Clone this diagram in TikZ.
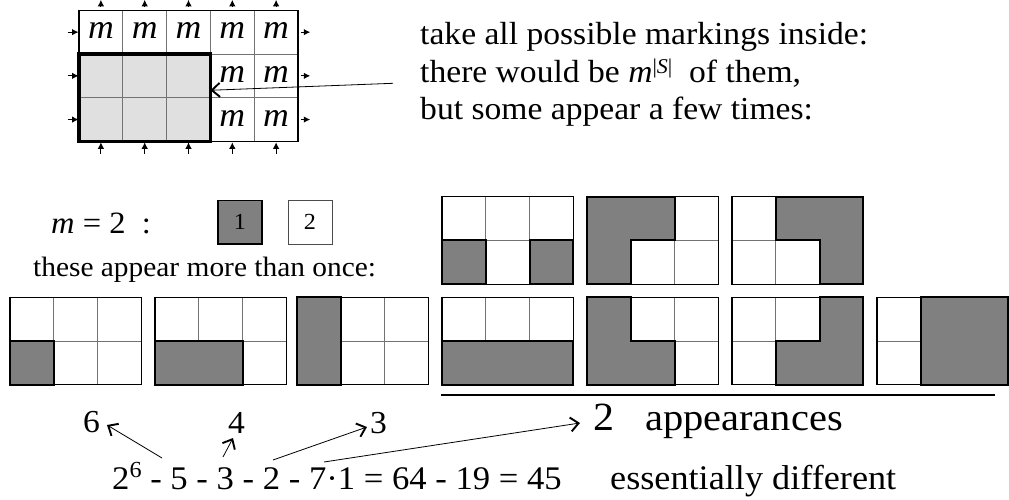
\documentclass[tikz,border=0pt]{standalone}
\usepackage{fontspec}
\setmainfont{Liberation Serif}[FakeStretch=1.05]
\usetikzlibrary{arrows.meta}
\newcommand\fsz[1]{\fontsize{#1}{#1}\selectfont}
\tikzset{
  cellline/.style={draw=black!55, line width=0.9pt},
  outerbox/.style={draw=black, line width=1.1pt},
  shaded/.style={fill=black!50, draw=black, line width=2pt, line join=miter},
  barb/.style={-{Straight Barb[length=8pt,width=14pt,line width=1.9pt]}, line width=0.8pt},
  tick/.style={-{Latex[length=6.5pt,width=6.5pt]}, line width=1.1pt},
  txt/.style={inner sep=0pt, anchor=base west},
}
\newcommand\mgrid[3]{%
  \begin{scope}[shift={(#1,#2)}, x=43.8pt, y=-43.7pt]
    \fill[white] (0,0) rectangle (3,2);
    \draw[cellline] (1,0)--(1,2) (2,0)--(2,2) (0,1)--(3,1);
    \filldraw[shaded] #3;
    \draw[outerbox] (0,0) rectangle (3,2);
    \filldraw[shaded] #3;
  \end{scope}}
\begin{document}
\begin{tikzpicture}[x=1pt, y=-1pt]
\useasboundingbox (0,0) rectangle (1009,500);
% ---------- top-left grid ----------
\begin{scope}[shift={(79,10.3)}, x=43.8pt, y=-43.7pt]
  \fill[black!12] (0,1) rectangle (3,3);
  \draw[cellline] (1,0)--(1,3) (2,0)--(2,3) (3,0)--(3,3) (4,0)--(4,3)
                  (0,1)--(5,1) (0,2)--(5,2);
  \draw[outerbox] (0,0) rectangle (5,3);
  \draw[line width=3.5pt] (0,1) rectangle (3,3);
  \foreach \c in {0,...,4} {
    \node[font=\fsz{34}\itshape] (mt\c) at (\c+0.5,0.47) {m};
    \draw[tick] (\c+0.5,3.28) -- (\c+0.5,3.02);
    \draw[tick] (\c+0.5,-0.1) -- (\c+0.5,-0.24);
  }
  \foreach \c in {3,4} \foreach \r in {1,2}
    \node[font=\fsz{34}\itshape] (m\c\r) at (\c+0.5,\r+0.47) {m};
  \foreach \r in {0,1,2} {
    \draw[tick] (-0.26,\r+0.5) -- (-0.01,\r+0.5);
    \draw[tick] (5.06,\r+0.5) -- (5.28,\r+0.5);
  }
  \coordinate (inner) at (3,1.83);
\end{scope}
% ---------- top text ----------
\node[txt, font=\fsz{32}] (t1) at (420,45) {take all possible markings inside:};
\node[txt, font=\fsz{32}] (t2) at (420,83) {there would be \textit{m}\raisebox{9pt}{\fsz{21}|\textit{S}|}\ \ of them,};
\node[txt, font=\fsz{32}] (t3) at (420,120) {but some appear a few times:};
\coordinate (lstart) at (393,83.3);
\draw[barb] (lstart) -- (inner);
% ---------- m = 2 ----------
\node[txt, font=\fsz{31}] (meq) at (51,233) {\textit{m} = 2\ \ :};
\node[draw=black, line width=1.3pt, fill=black!50, minimum width=44pt, minimum height=43.3pt, inner sep=0pt, font=\fsz{23}] (c1) at (240,222.3) {1};
\node[draw=black!70, line width=0.9pt, fill=white, minimum width=44pt, minimum height=43.3pt, inner sep=0pt, font=\fsz{23}] (c2) at (310,222.3) {2};
\node[txt, font=\fsz{28}] (these) at (33,276) {these appear more than once:};
% ---------- small grids ----------
\mgrid{10}{297.3}{(0,1) rectangle (1,2)}
\mgrid{155}{297.3}{(0,1) rectangle (2,2)}
\mgrid{297}{297.3}{(0,0) rectangle (1,2)}
\mgrid{442}{196.7}{(0,1) rectangle (1,2) (2,1) rectangle (3,2)}
\mgrid{587}{196.7}{(0,0)--(2,0)--(2,1)--(1,1)--(1,2)--(0,2)--cycle}
\mgrid{732}{196.7}{(1,0)--(3,0)--(3,2)--(2,2)--(2,1)--(1,1)--cycle}
\mgrid{442}{297.3}{(0,1) rectangle (3,2)}
\mgrid{587}{297.3}{(0,0)--(1,0)--(1,1)--(2,1)--(2,2)--(0,2)--cycle}
\mgrid{732}{297.3}{(2,0)--(3,0)--(3,2)--(1,2)--(1,1)--(2,1)--cycle}
\mgrid{877}{297.3}{(1,0) rectangle (3,2)}
\coordinate (rl) at (441,395);
\coordinate (rr) at (995,395);
\draw[line width=1.1pt] (rl) -- (rr);
% ---------- bottom ----------
\node[txt, font=\fsz{32}] (n6) at (83,432) {6};
\node[txt, font=\fsz{32}] (n4) at (228,433) {4};
\node[txt, font=\fsz{32}] (n3) at (370,433) {3};
\node[txt, font=\fsz{40}] (n2) at (593,430) {2};
\node[txt, font=\fsz{38.5}] (app) at (645,430) {appearances};
\node[txt, font=\fsz{33}] (formula) at (112,489) {2\raisebox{12pt}{\fsz{23}6} - 5 - 3 - 2 - 7·1 = 64 - 19 = 45};
\node[txt, font=\fsz{34.5}] (ess) at (610,489) {essentially different};
\coordinate (s6) at (162,458);
\coordinate (e6) at (107,425);
\coordinate (s4) at (223,457);
\coordinate (e4) at (233,438);
\coordinate (s3) at (273,460);
\coordinate (e3) at (367,427);
\coordinate (s2) at (324,462);
\coordinate (e2) at (580,423);
\draw[barb] (s6) -- (e6);
\draw[barb] (s4) -- (e4);
\draw[barb] (s3) -- (e3);
\draw[barb] (s2) -- (e2);
\end{tikzpicture}
\end{document}
